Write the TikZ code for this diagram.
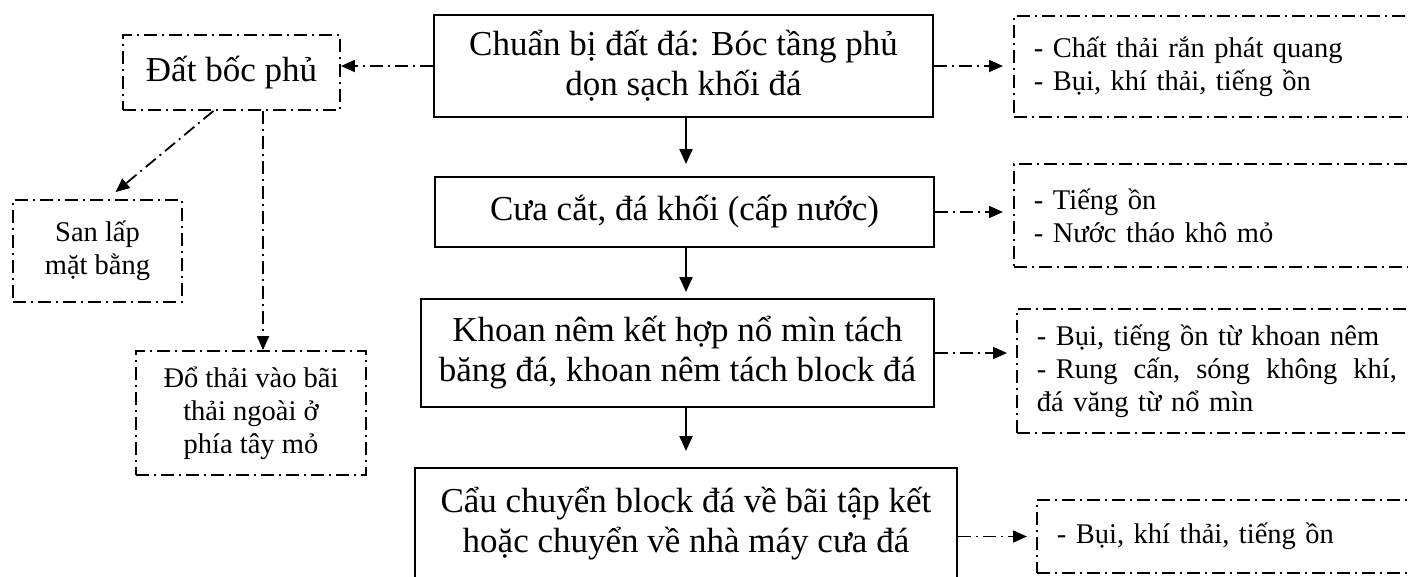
\documentclass[tikz,border=0pt]{standalone}
\usepackage{fontspec}
\setmainfont{Liberation Serif}
\usetikzlibrary{arrows.meta}
\begin{document}
\begin{tikzpicture}[x=1pt,y=-1pt,
  mainfont/.style={font=\fontsize{35}{40}\selectfont},
  sidefont/.style={font=\fontsize{28.5}{33}\selectfont},
  dashdotline/.style={line width=1.8pt, dash pattern=on 13pt off 5pt on 2pt off 5pt},
  mainbox/.style={draw, line width=2pt, inner sep=0pt, align=center, mainfont},
  leftbox/.style={draw, dashdotline, inner sep=0pt, align=center, sidefont},
  sidebox/.style={draw, dashdotline, anchor=west, inner xsep=20pt, inner ysep=0pt,
                  text width=380pt, align=left, sidefont},
  mainarrow/.style={line width=2pt, -{Triangle[length=15pt,width=13pt]}},
  ddarrow/.style={dashdotline, -{Triangle[length=14pt,width=12pt]}}
]
\useasboundingbox (0,0) rectangle (1408,576);
\clip (0,0) rectangle (1408,576);

% main column
\node[mainbox, minimum width=499, minimum height=102] (B1) at (683.5,66)
  {Chuẩn bị đất đá: Bóc tầng phủ\\dọn sạch khối đá};
\node[mainbox, minimum width=499, minimum height=70] (B2) at (684.5,212)
  {Cưa cắt, đá khối (cấp nước)};
\node[mainbox, minimum width=513, minimum height=108] (B3) at (677.5,353)
  {Khoan nêm kết hợp nổ mìn tách\\băng đá, khoan nêm tách block đá};
\node[mainbox, minimum width=542, minimum height=112] (B4) at (686,524)
  {Cẩu chuyển block đá về bãi tập kết\\hoặc chuyển về nhà máy cưa đá};

% left boxes
\node[leftbox, mainfont, minimum width=217, minimum height=75] (DBP) at (231.5,72.5)
  {Đất bốc phủ};
\node[leftbox, minimum width=169, minimum height=102] (SL) at (97.5,251)
  {San lấp\\mặt bằng};
\node[leftbox, minimum width=230, minimum height=124] (DT) at (251,413)
  {Đổ thải vào bãi\\thải ngoài ở\\phía tây mỏ};

% right boxes
\node[sidebox, minimum height=101] (R1) at (1013,66.5)
  {- Chất thải rắn phát quang\\- Bụi, khí thải, tiếng ồn};
\node[sidebox, minimum height=103] (R2) at (1013,215.5)
  {- Tiếng ồn\\- Nước tháo khô mỏ};
\node[sidebox, minimum height=124] (R3) at (1016,371)
  {- Bụi, tiếng ồn từ khoan nêm\\\makebox[360pt][s]{- Rung\hfill cấn,\hfill sóng\hfill không\hfill khí,}\\đá văng từ nổ mìn};
\node[sidebox, minimum height=73] (R4) at (1036,536.5)
  {- Bụi, khí thải, tiếng ồn};

% helper coordinates
\coordinate (ax) at (686,0);
\coordinate (vx) at (263,0);

% main arrows
\draw[mainarrow, shorten >=12pt] (B1.south -| ax) -- (B2.north -| ax);
\draw[mainarrow, shorten >=6pt] (B2.south -| ax) -- (B3.north -| ax);
\draw[mainarrow, shorten >=16pt] (B3.south -| ax) -- (B4.north -| ax);

% side arrows
\draw[ddarrow, shorten >=10pt] (B1.east) -- (B1.east -| R1.west);
\draw[ddarrow, shorten >=10pt] (B2.east) -- (B2.east -| R2.west);
\draw[ddarrow, shorten >=9pt] (B3.east) -- (B3.east -| R3.west);
\draw[ddarrow, shorten >=9pt] (R4.west -| B4.east) -- (R4.west);

% left arrows
\draw[ddarrow] (B1.west) -- (B1.west -| DBP.east);
\draw[ddarrow] ([xshift=-18pt]DBP.south) -- ([xshift=18pt,yshift=7pt]SL.north);
\draw[ddarrow] (DBP.south -| vx) -- (DT.north -| vx);
\end{tikzpicture}
\end{document}
